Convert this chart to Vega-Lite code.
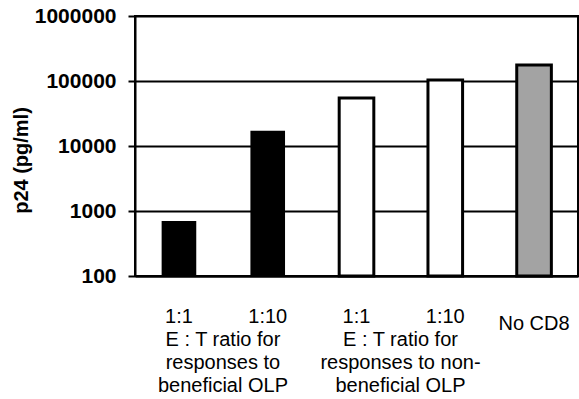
{
  "$schema": "https://vega.github.io/schema/vega-lite/v6.json",
  "width": 443,
  "height": 260,
  "autosize": "none",
  "padding": {"left": 135, "top": 16, "right": 1, "bottom": 123},
  "background": "white",
  "config": {
    "font": "Liberation Sans",
    "view": {"stroke": "black", "strokeWidth": 2}
  },
  "data": {
    "values": [
      {"bar": "b1", "group": "beneficial", "p24": 700},
      {"bar": "b2", "group": "beneficial", "p24": 17200},
      {"bar": "n1", "group": "non-beneficial", "p24": 55000},
      {"bar": "n2", "group": "non-beneficial", "p24": 104000},
      {"bar": "none", "group": "No CD8", "p24": 176000}
    ]
  },
  "resolve": {"axis": {"x": "independent"}},
  "layer": [
    {
      "mark": {"type": "bar", "stroke": "black"},
      "encoding": {
        "x": {
          "field": "bar",
          "type": "nominal",
          "sort": ["b1", "b2", "n1", "n2", "none"],
          "scale": {"paddingInner": 0.61, "paddingOuter": 0.3},
          "axis": {
            "title": null,
            "orient": "bottom",
            "labelAngle": 0,
            "ticks": false,
            "domainColor": "black",
            "domainWidth": 2,
            "labelFontSize": 20,
            "labelColor": "black",
            "labelPadding": {"expr": "datum.value == 'none' ? 37 : 30"},
            "labelExpr": "datum.value == 'b1' || datum.value == 'n1' ? '1:1' : (datum.value == 'none' ? 'No CD8' : '1:10')"
          }
        },
        "y": {
          "field": "p24",
          "type": "quantitative",
          "scale": {"type": "log", "domain": [100, 1000000]},
          "axis": {
            "title": "p24 (pg/ml)",
            "titleFontSize": 20,
            "titleFontWeight": "bold",
            "titleColor": "black",
            "titlePadding": 3,
            "titleY": 144,
            "values": [100, 1000, 10000, 100000, 1000000],
            "format": "d",
            "labelFontSize": 21,
            "labelFontWeight": "bold",
            "labelColor": "black",
            "labelPadding": 12,
            "tickSize": 7,
            "tickColor": "black",
            "tickWidth": 2,
            "domainColor": "black",
            "domainWidth": 2,
            "grid": true,
            "gridColor": "black",
            "gridWidth": 2,
            "gridOpacity": 1
          }
        },
        "y2": {"datum": 100},
        "fill": {
          "field": "group",
          "type": "nominal",
          "scale": {"domain": ["beneficial", "non-beneficial", "No CD8"], "range": ["black", "white", "#a3a3a3"]},
          "legend": null
        },
        "strokeWidth": {
          "condition": {"test": "datum.group == 'beneficial'", "value": 0},
          "value": 3
        }
      }
    },
    {
      "mark": {"type": "text", "text": ""},
      "encoding": {
        "x": {
          "field": "bar",
          "type": "nominal",
          "sort": ["b1", "b2", "n1", "n2", "none"],
          "axis": {
            "title": null,
            "orient": "bottom",
            "values": ["b1", "n1"],
            "labelAngle": 0,
            "ticks": false,
            "domain": false,
            "grid": false,
            "labelOffset": 44,
            "labelFontSize": 20,
            "labelColor": "black",
            "labelLineHeight": 23,
            "labelPadding": 53,
            "labelLimit": 0,
            "labelOverlap": false,
            "labelBound": false,
            "labelExpr": "datum.value == 'b1' ? ['E : T ratio for', 'responses to', 'beneficial OLP'] : ['E : T ratio for', 'responses to non-', 'beneficial OLP']"
          }
        }
      }
    }
  ]
}
